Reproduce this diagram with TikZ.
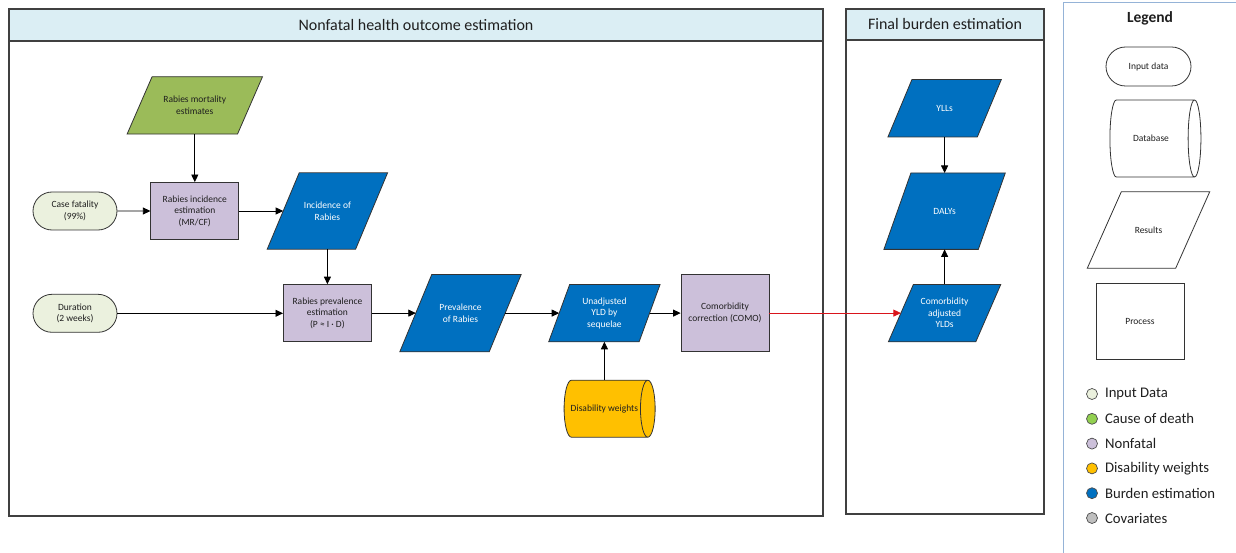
\documentclass[tikz,border=0pt]{standalone}
\usepackage{fontspec}
\setmainfont{Carlito}
\usepackage{xcolor}
\usetikzlibrary{arrows.meta,positioning,shapes.geometric,shapes.misc,backgrounds}
\definecolor{inputgreen}{HTML}{EBF1DE}
\definecolor{mortgreen}{HTML}{9BBB59}
\definecolor{causegreen}{HTML}{92D050}
\definecolor{nonfatal}{HTML}{CCC0DA}
\definecolor{dwyellow}{HTML}{FFC000}
\definecolor{burden}{HTML}{0070C0}
\definecolor{covgray}{HTML}{BFBFBF}
\definecolor{headblue}{HTML}{DBEEF4}
\definecolor{legendblue}{HTML}{95B3D7}
\definecolor{arrowred}{HTML}{D9141B}
\definecolor{inktext}{HTML}{1F1F1F}

\begin{document}
\begin{tikzpicture}[
  x=1pt,y=-1pt,
  font=\fontsize{9.5}{11.5}\selectfont,
  text=inktext,
  node distance=35pt and 44pt,
  edge/.style={draw=black!80,line width=0.8pt},
  indata/.style={edge,rounded rectangle,fill=inputgreen,minimum width=88pt,minimum height=38pt,align=center,inner sep=2pt},
  proc/.style={edge,fill=nonfatal,minimum width=88pt,minimum height=57pt,align=center,inner sep=2pt},
  res/.style={text=white,minimum width=88pt,minimum height=57pt,align=center,inner sep=2pt},
  resbig/.style={res,minimum height=76pt},
  dbase/.style={edge,cylinder,aspect=1.2,shape border rotate=0,cylinder uses custom fill,cylinder body fill=dwyellow,cylinder end fill=dwyellow,minimum width=57pt,minimum height=88pt,align=center,inner sep=2pt},
  ar/.style={-{Triangle[length=7.5pt,width=7pt]},draw=black,line width=0.8pt},
  panel/.style={draw=black!75,line width=1.1pt},
  head/.style={panel,fill=headblue},
  dot/.style={circle,draw=black!70,line width=0.7pt,minimum size=11pt,inner sep=0pt},
  key/.style={font=\fontsize{14.7}{17}\selectfont,anchor=west,inner sep=0pt}
]
\useasboundingbox (0,0) rectangle (1236,553);

% panels
\draw[panel] (9,9) rectangle (823,516);
\draw[head] (9,9) rectangle (823,41);
\node[font=\fontsize{16}{19}\selectfont] (ttlnonfatal) at (416,25) {Nonfatal health outcome estimation};
\draw[panel] (846,9) rectangle (1044,514);
\draw[head] (846,9) rectangle (1044,40);
\node[font=\fontsize{16}{19}\selectfont] (ttlfinal) at (945,24.5) {Final burden estimation};

% incidence row
\node[indata] (cf) at (75,211) {Case fatality\\(99\%)};
\node[proc,right=33pt of cf] (incest) {Rabies incidence\\estimation\\(MR/CF)};
\node[res,minimum width=110pt,text=inktext,above=48pt of incest] (mort) {Rabies mortality\\estimates};
\node[resbig,right=44pt of incest] (incid) {Incidence of\\Rabies};

% prevalence row
\node[indata,below=63.5pt of cf] (dur) {Duration\\(2 weeks)};
\node[proc,below=35pt of incid] (prevest) {Rabies prevalence\\estimation\\(P ≈ I · D)};
\node[resbig,minimum width=89pt,minimum height=77pt,right=44pt of prevest] (prev) {Prevalence\\of Rabies};
\node[res,minimum width=90pt,right=54pt of prev] (unadj) {Unadjusted\\YLD by\\sequelae};
\node[dbase,below=38pt of unadj] (dw) {Disability weights};
\node[proc,minimum height=77pt,right=31pt of unadj] (como) {Comorbidity\\correction (COMO)};

% final burden
\node[res,minimum width=87pt,right=131.5pt of como] (comadj) {Comorbidity\\adjusted\\YLDs};
\node[resbig,minimum width=94pt,above=35pt of comadj] (daly) {DALYs};
\node[res,minimum width=89pt,above=36pt of daly] (yll) {YLLs};

% legend
\begin{scope}
\clip (0,0) rectangle (1236,553);
\draw[legendblue,line width=1pt] (1063,3) rectangle (1260,580);
\end{scope}
\node[font=\bfseries\fontsize{15.5}{18}\selectfont] (lgtitle) at (1150,18) {Legend};
\node[indata,fill=white,minimum width=89pt,minimum height=39pt] (lgin) at (1148.5,66.5) {Input data};
\node[dbase,cylinder body fill=white,cylinder end fill=white,minimum width=77pt,minimum height=91pt] (lgdb) at (1151,138.5) {Database};
\node[resbig,text=inktext] (lgres) at (1148.5,230) {Results};
\node[proc,fill=white,minimum height=76pt] (lgproc) at (1140,321) {Process};
\foreach \c/\t [count=\i] in {inputgreen/Input Data,causegreen/Cause of death,nonfatal/Nonfatal,dwyellow/Disability weights,burden/Burden estimation,covgray/Covariates}{
  \node[dot,fill=\c] (key\i) at (1092,{394+24.8*(\i-1)}) {};
  \node[key,right=7pt of key\i] (keytxt\i) {\t};
}

% parallelograms behind the result nodes (half slant in pt)
\begin{scope}[on background layer]
\foreach \n/\c/\s in {mort/mortgreen/12.5,incid/burden/16,prev/burden/16,unadj/burden/10.5,comadj/burden/12.5,yll/burden/12,daly/burden/13.5,lgres/white/17}
  \draw[edge,fill=\c] ([xshift=-\s pt]\n.south west) -- ([xshift=\s pt]\n.north west)
    -- ([xshift=\s pt]\n.north east) -- ([xshift=-\s pt]\n.south east) -- cycle;
\end{scope}

\draw[ar] (mort) -- (incest);
\draw[ar] (cf) -- (incest); \draw[ar] (incest) -- (incid);
\draw[ar] (incid) -- (prevest);
\draw[ar] (dur.east) -- (dur.east -| prevest.west); \draw[ar] (prevest) -- (prev);
\draw[ar] (prev) -- (unadj); \draw[ar] (unadj) -- (como);
\draw[ar] (dw) -- (unadj);
\draw[ar,draw=arrowred] (como) -- (comadj);
\draw[ar] (comadj) -- (daly); \draw[ar] (yll) -- (daly);
\end{tikzpicture}
\end{document}
